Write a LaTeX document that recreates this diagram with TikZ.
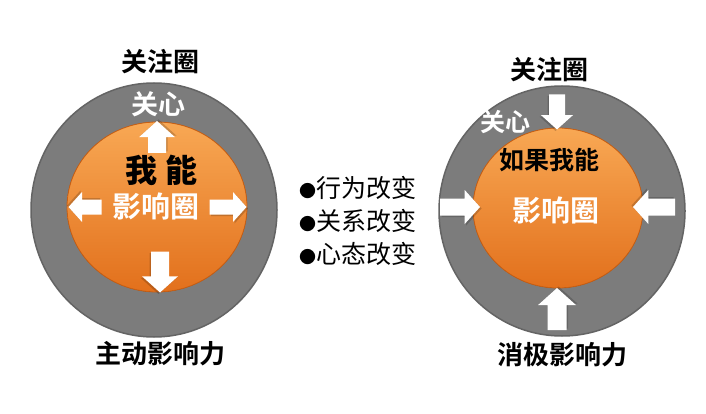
\documentclass[tikz,border=0pt]{standalone}
\usepackage{fontspec}
\newfontfamily\cjk{Noto Sans CJK SC}
\newfontfamily\cjkb{Noto Sans CJK SC Bold}
\newfontfamily\cjkk{Noto Sans CJK SC Black}
\definecolor{ringgray}{RGB}{124,124,124}
\definecolor{ringedge}{RGB}{100,100,100}
\definecolor{orangeL}{RGB}{248,168,84}
\definecolor{orangeD}{RGB}{226,112,28}
\definecolor{orangeE}{RGB}{200,95,20}
\tikzset{
  ring/.style={fill=ringgray,draw=ringedge,line width=1.5pt},
  core/.style={top color=orangeL,bottom color=orangeD,draw=orangeE,line width=0.8pt},
  head/.style={font=\cjkb\fontsize{26}{28}\selectfont,text=black,inner sep=0},
  wlabel/.style={font=\cjkb\fontsize{27}{29}\selectfont,text=white,inner sep=0},
  blabel/.style={font=\cjkb\fontsize{25}{27}\selectfont,text=black,inner sep=0},
  item/.style={font=\cjk\fontsize{25}{27}\selectfont,text=black,inner sep=0,anchor=west},
  arrowfill/.style={fill=white},
  arrowshade/.style={fill=black,opacity=0.18}
}
% #1 centre, #2 angle, #3 length, #4 half head width
\newcommand{\blockarr}[4]{%
  \begin{scope}[shift={#1},rotate=#2]
    \fill[arrowshade,shift={(1.5,1.5)}] ({-#3/2},{-#4/2}) -- ({#3/2-0.9*#4},{-#4/2}) -- ({#3/2-0.9*#4},{-#4}) -- ({#3/2},0)
      -- ({#3/2-0.9*#4},{#4}) -- ({#3/2-0.9*#4},{#4/2}) -- ({-#3/2},{#4/2}) -- cycle;
    \fill[arrowfill] ({-#3/2},{-#4/2}) -- ({#3/2-0.9*#4},{-#4/2}) -- ({#3/2-0.9*#4},{-#4}) -- ({#3/2},0)
      -- ({#3/2-0.9*#4},{#4}) -- ({#3/2-0.9*#4},{#4/2}) -- ({-#3/2},{#4/2}) -- cycle;
  \end{scope}}
\begin{document}
\begin{tikzpicture}[x=1pt,y=-1pt]
\useasboundingbox (0,0) rectangle (706,414);
\fill[white] (0,0) rectangle (706,414);
% left diagram
\fill[ring] (154,210) ellipse [x radius=123,y radius=127];
\fill[core] (157,207) ellipse [x radius=90,y radius=85];
\node[head] (lcircle) at (160,62) {关注圈};
\node[wlabel] (lcare) at (158,104) {关心};
\node[font=\cjkk\fontsize{32}{34}\selectfont,text=black,inner sep=0] (lcan) at (161,170) {我\hspace{8pt}能};
\node[wlabel,font=\cjkb\fontsize{29}{31}\selectfont] (linf) at (156,206) {影响圈};
\node[blabel,font=\cjkb\fontsize{26}{28}\selectfont] (lact) at (160,354) {主动影响力};
\blockarr{(157,137)}{90}{32}{18}
\blockarr{(85,207)}{180}{33}{15}
\blockarr{(228,207)}{0}{37}{15}
\blockarr{(160,272)}{-90}{41}{18}
% middle list
\node[item] (i1) at (299,188) {\fontsize{17}{19}\selectfont●\fontsize{25}{27}\selectfont 行为改变};
\node[item] (i2) at (299,221) {\fontsize{17}{19}\selectfont●\fontsize{25}{27}\selectfont 关系改变};
\node[item] (i3) at (299,254) {\fontsize{17}{19}\selectfont●\fontsize{25}{27}\selectfont 心态改变};
% right diagram
\fill[ring] (562,211) ellipse [x radius=123,y radius=125];
\fill[core] (558,208) ellipse [x radius=85,y radius=80];
\node[head] (rcircle) at (549,70) {关注圈};
\node[wlabel,font=\cjkb\fontsize{25}{27}\selectfont] (rcare) at (505,122) {关心};
\node[blabel] (rif) at (549,160) {如果我能};
\node[wlabel,font=\cjkb\fontsize{29}{31}\selectfont] (rinf) at (556,210) {影响圈};
\node[blabel,font=\cjkb\fontsize{26}{28}\selectfont] (rneg) at (562,355) {消极影响力};
\blockarr{(557,112)}{-90}{35}{16}
\blockarr{(460,207)}{0}{40}{17}
\blockarr{(654,207)}{180}{42}{17}
\blockarr{(557,309)}{90}{42}{19}
\end{tikzpicture}
\end{document}
